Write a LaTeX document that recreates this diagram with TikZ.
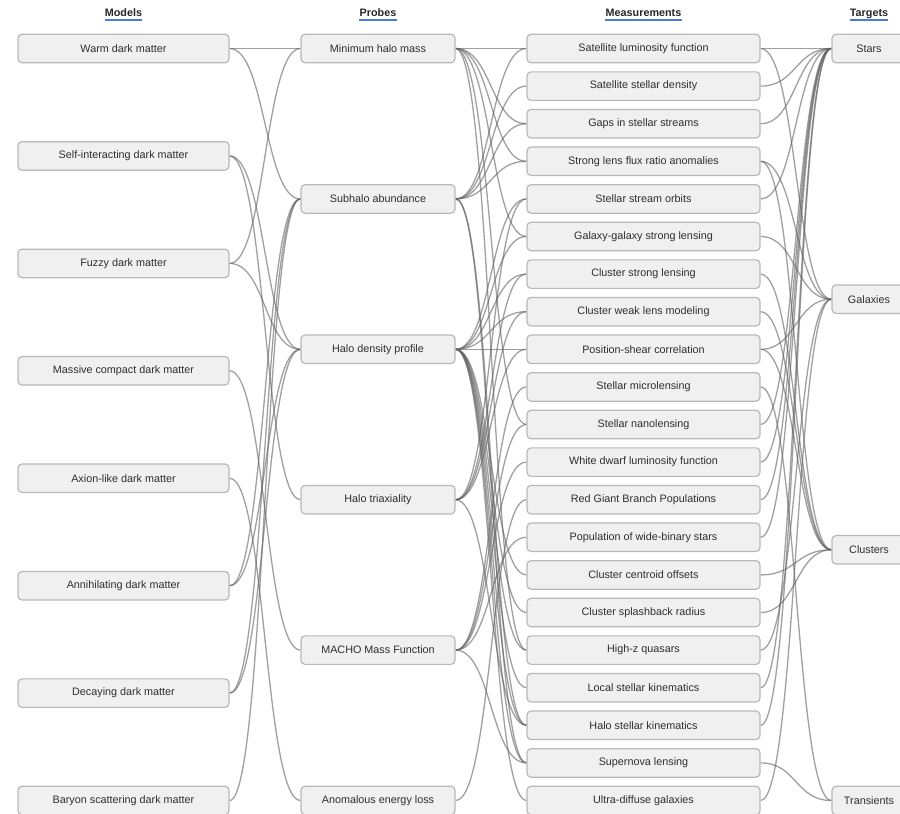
\documentclass[tikz,border=0pt]{standalone}
\usepackage{fontspec}
\setmainfont{Liberation Sans}
\usetikzlibrary{backgrounds}
\definecolor{boxFill}{HTML}{F0F0F0}
\definecolor{boxLine}{HTML}{B8B8B8}
\definecolor{txtDark}{HTML}{2E2E2E}
\definecolor{headBlue}{HTML}{4A7BD6}
\definecolor{linkGray}{HTML}{606060}

\begin{document}
\begin{tikzpicture}[x=1pt,y=-1pt,font=\fontsize{10.8}{13}\selectfont,text=txtDark,
    tile/.style={draw=boxLine,line width=1.2pt,rounded corners=4pt,fill=boxFill,
                 minimum height=28.5pt,inner sep=0pt},
    model/.style={tile,minimum width=211pt},
    probe/.style={tile,minimum width=154pt},
    meas/.style={tile,minimum width=233pt},
    target/.style={tile,minimum width=74pt},
    hdr/.style={font=\fontsize{10.8}{13}\selectfont\bfseries,text=black!85,
                inner sep=0pt,anchor=base},
    uline/.style={draw=headBlue,line width=2pt},
    flow/.style={draw=linkGray,draw opacity=0.6,line width=1.3pt,
                 to path={.. controls +(36,0) and +(-36,0) .. (\tikztotarget)}}]
  \useasboundingbox (0,0) rectangle (900,814);

  % column headers
  \node[hdr] (hmod) at (123.5,16.5) {Models};
  \node[hdr] (hpro) at (378,16.5) {Probes};
  \node[hdr] (hmea) at (643.5,16.5) {Measurements};
  \node[hdr] (htar) at (869,16.5) {Targets};
  \foreach \h in {hmod,hpro,hmea,htar}
    \draw[uline] ([yshift=-3.5pt]\h.base west) -- ([yshift=-3.5pt]\h.base east);

  % models
  \node[model] (wdm)  at (123.5,48.5)  {Warm dark matter};
  \node[model] (sidm) at (123.5,155.9) {Self-interacting dark matter};
  \node[model] (fdm)  at (123.5,263.4) {Fuzzy dark matter};
  \node[model] (mcdm) at (123.5,370.8) {Massive compact dark matter};
  \node[model] (alp)  at (123.5,478.2) {Axion-like dark matter};
  \node[model] (ann)  at (123.5,585.7) {Annihilating dark matter};
  \node[model] (dec)  at (123.5,693.1) {Decaying dark matter};
  \node[model] (bsdm) at (123.5,800.5) {Baryon scattering dark matter};

  % probes
  \node[probe] (mhm) at (378,48.5)  {Minimum halo mass};
  \node[probe] (sub) at (378,198.9) {Subhalo abundance};
  \node[probe] (hdp) at (378,349.3) {Halo density profile};
  \node[probe] (tri) at (378,499.7) {Halo triaxiality};
  \node[probe] (mmf) at (378,650.1) {MACHO Mass Function};
  \node[probe] (ael) at (378,800.5) {Anomalous energy loss};

  % measurements
  \node[meas] (slf)  at (643.5,48.5)  {Satellite luminosity function};
  \node[meas] (ssd)  at (643.5,86.1)  {Satellite stellar density};
  \node[meas] (gap)  at (643.5,123.7) {Gaps in stellar streams};
  \node[meas] (flux) at (643.5,161.3) {Strong lens flux ratio anomalies};
  \node[meas] (orb)  at (643.5,198.9) {Stellar stream orbits};
  \node[meas] (ggl)  at (643.5,236.5) {Galaxy-galaxy strong lensing};
  \node[meas] (csl)  at (643.5,274.1) {Cluster strong lensing};
  \node[meas] (cwl)  at (643.5,311.7) {Cluster weak lens modeling};
  \node[meas] (psc)  at (643.5,349.3) {Position-shear correlation};
  \node[meas] (mic)  at (643.5,386.9) {Stellar microlensing};
  \node[meas] (nan)  at (643.5,424.5) {Stellar nanolensing};
  \node[meas] (wdl)  at (643.5,462.1) {White dwarf luminosity function};
  \node[meas] (rgb)  at (643.5,499.7) {Red Giant Branch Populations};
  \node[meas] (wbs)  at (643.5,537.3) {Population of wide-binary stars};
  \node[meas] (cco)  at (643.5,574.9) {Cluster centroid offsets};
  \node[meas] (spl)  at (643.5,612.5) {Cluster splashback radius};
  \node[meas] (hzq)  at (643.5,650.1) {High-z quasars};
  \node[meas] (lsk)  at (643.5,687.7) {Local stellar kinematics};
  \node[meas] (hsk)  at (643.5,725.3) {Halo stellar kinematics};
  \node[meas] (snl)  at (643.5,762.9) {Supernova lensing};
  \node[meas] (udg)  at (643.5,800.5) {Ultra-diffuse galaxies};

  % targets
  \node[target] (stars) at (869,48.5)  {Stars};
  \node[target] (gals)  at (869,299.2) {Galaxies};
  \node[target] (clus)  at (869,549.8) {Clusters};
  \node[target] (trans) at (869,800.5) {Transients};

  % links
  \begin{scope}[on background layer]
    \foreach \a/\b in {wdm/mhm,wdm/sub,sidm/hdp,sidm/tri,fdm/mhm,fdm/hdp,
                       mcdm/mmf,alp/ael,ann/sub,ann/hdp,dec/sub,dec/hdp,bsdm/sub}
      \draw[flow] (\a.east) to (\b.west);
    \foreach \a/\b in {mhm/slf,mhm/gap,mhm/flux,mhm/ggl,mhm/nan,mhm/hzq,
                       sub/slf,sub/ssd,sub/gap,sub/flux,sub/hsk,sub/snl,
                       hdp/orb,hdp/ggl,hdp/csl,hdp/cwl,hdp/psc,hdp/cco,hdp/spl,
                       hdp/hzq,hdp/lsk,hdp/hsk,hdp/snl,hdp/udg,
                       tri/orb,tri/csl,tri/cwl,tri/psc,tri/hsk,
                       mmf/mic,mmf/nan,mmf/wdl,mmf/wbs,mmf/snl,ael/rgb}
      \draw[flow] (\a.east) to (\b.west);
    \foreach \a/\b in {slf/stars,slf/gals,ssd/stars,gap/stars,flux/gals,flux/clus,
                       orb/stars,ggl/gals,csl/clus,cwl/clus,psc/gals,psc/clus,
                       mic/trans,nan/stars,wdl/stars,rgb/stars,wbs/stars,
                       cco/clus,spl/clus,hzq/gals,lsk/stars,hsk/stars,
                       snl/trans,udg/gals}
      \draw[flow] (\a.east) to (\b.west);
  \end{scope}
\end{tikzpicture}
\end{document}
